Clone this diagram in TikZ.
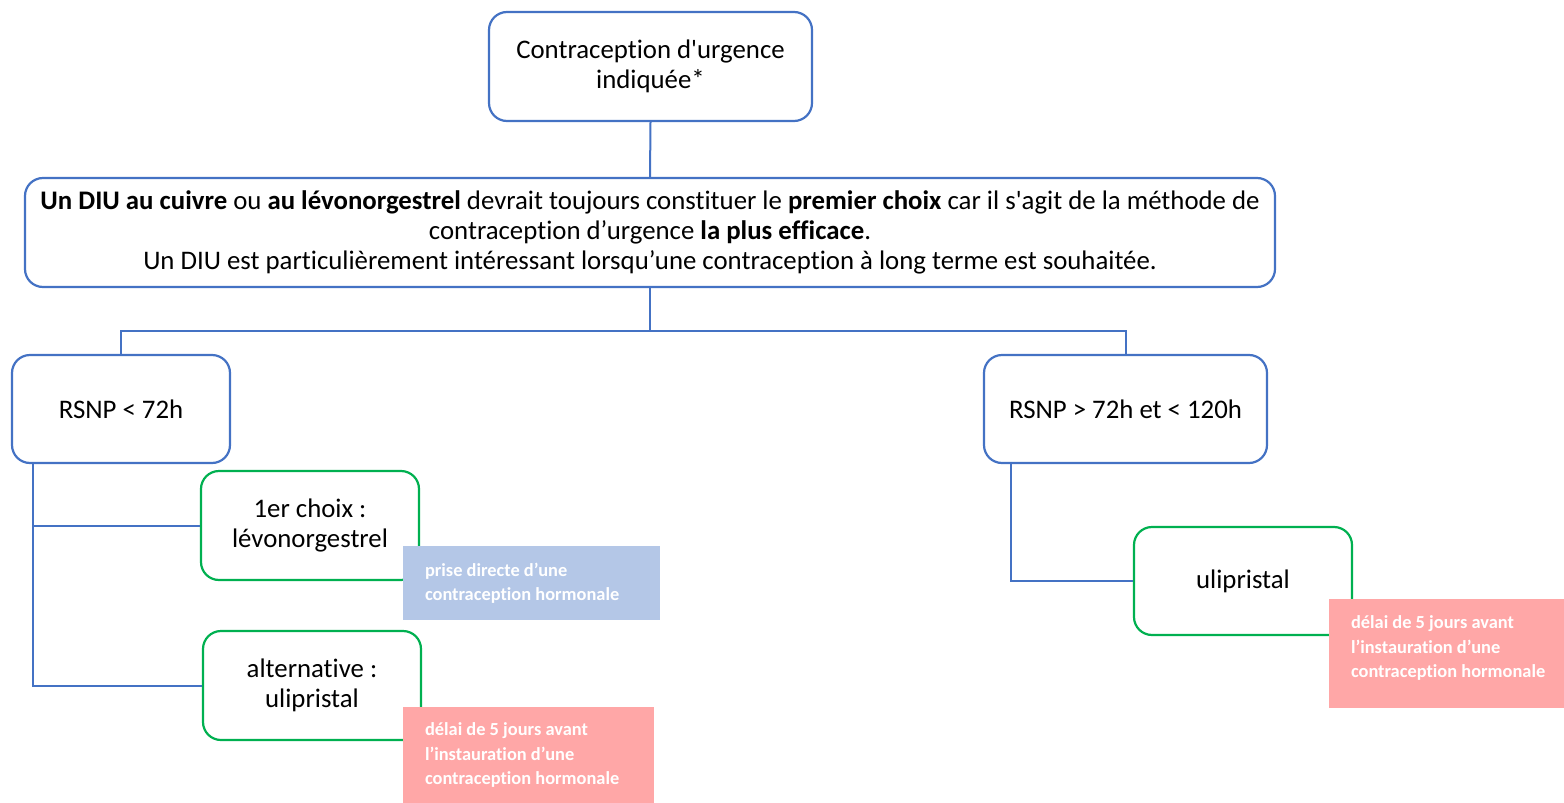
\documentclass[tikz,border=0pt]{standalone}
\usepackage{fontspec}
\setmainfont{Carlito}[Ligatures={TeXOff,NoCommon}]
\usetikzlibrary{calc}
\definecolor{bord}{HTML}{4472C4}
\definecolor{grn}{HTML}{00B050}
\definecolor{lblue}{HTML}{B4C7E7}
\definecolor{lpink}{HTML}{FFA7A7}
\begin{document}
\begin{tikzpicture}[x=1pt,y=-1pt,
 box/.style={draw=bord, line width=2.2pt, rounded corners=18pt, fill=white, align=center, inner sep=0pt, font=\fontsize{26.8}{30}\selectfont},
 gbox/.style={box, draw=grn},
 conn/.style={draw=bord, line width=2pt},
 labbox/.style={fill=#1, inner sep=0pt},
 labtext/.style={text=white, font=\fontsize{18.4}{24.5}\selectfont\bfseries, align=left, inner sep=0pt, anchor=west}]
\useasboundingbox (0,0) rectangle (1564,803);
% boxes
\node[box, minimum width=323pt, minimum height=109pt] (top) at (650.5,66.5) {Contraception d'urgence\\indiquée*};
\node[box, minimum width=1250pt, minimum height=109pt] (main) at (650,232.5) {\textbf{Un DIU au cuivre} ou \textbf{au lévonorgestrel} devrait toujours constituer le \textbf{premier choix} car il s'agit de la méthode de\\contraception d’urgence \textbf{la plus efficace}.\\Un DIU est particulièrement intéressant lorsqu’une contraception à long terme est souhaitée.};
\node[box, minimum width=218pt, minimum height=108pt] (r1) at (121,409) {RSNP < 72h};
\node[box, minimum width=283pt, minimum height=108pt] (r2) at (1125.5,409) {RSNP > 72h et < 120h};
\node[gbox, minimum width=218pt, minimum height=109pt] (g1) at (310,525.5) {1er choix :\\lévonorgestrel};
\node[gbox, minimum width=218pt, minimum height=109pt] (g2) at (312,685.5) {alternative :\\ulipristal};
\node[gbox, minimum width=218pt, minimum height=108pt] (g3) at (1243,581) {ulipristal};
% connectors
\draw[conn] (top.south) -- (main.north);
\draw[conn] (main.south) -- ++(0,43) coordinate (split);
\draw[conn] (split) -| (r1.north);
\draw[conn] (split) -| (r2.north);
\coordinate (l0) at ($(r1.south west)+(22,0)$);
\draw[conn] (l0) |- (g1.west);
\draw[conn] (l0) |- (g2.west);
\coordinate (q0) at ($(r2.south west)+(28,0)$);
\draw[conn] (q0) |- (g3.west);
% labels
\node[labbox=lblue, minimum width=257pt, minimum height=74pt] (lb1) at (531.5,583) {};
\node[labtext] (lt1) at ([xshift=22pt]lb1.west) {prise directe d’une\\contraception hormonale};
\node[labbox=lpink, minimum width=251pt, minimum height=96pt] (lb2) at (528.5,755) {};
\node[labtext] (lt2) at ([xshift=22pt]lb2.west) {délai de 5 jours avant\\l’instauration d’une\\contraception hormonale};
\node[labbox=lpink, minimum width=235pt, minimum height=109pt] (lb3) at (1446.5,653.5) {};
\node[labtext] (lt3) at ([xshift=22pt,yshift=5.5pt]lb3.west) {délai de 5 jours avant\\l’instauration d’une\\contraception hormonale};
\end{tikzpicture}
\end{document}
